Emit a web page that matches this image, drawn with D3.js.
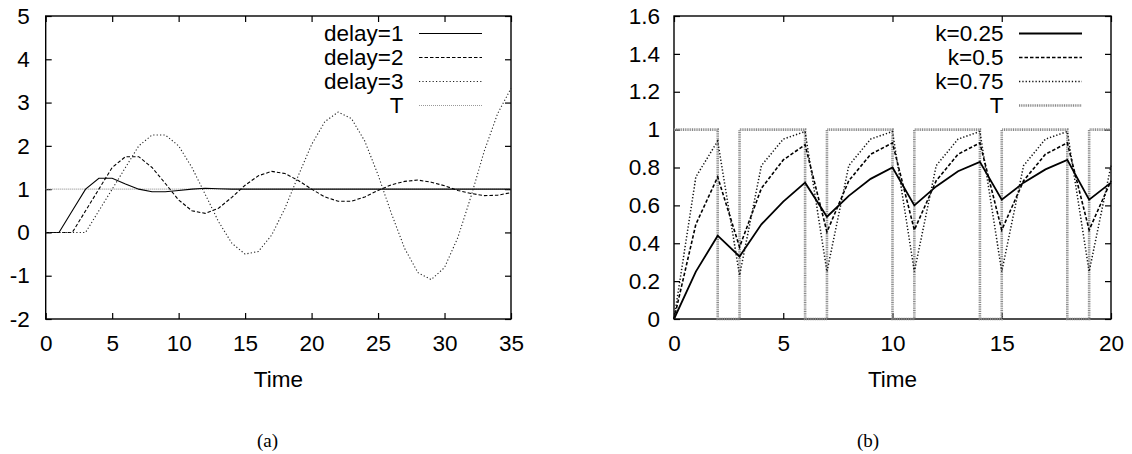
<!DOCTYPE html>
<html lang="en">
  <head>
    <meta charset="utf-8">
    <title></title>
    <script src="https://d3js.org/d3.v7.min.js"></script>
    <style>
     body { margin: 0; background-color: white; }
     svg { font-family: 'Liberation Sans', Arial, sans-serif; }
     .tick text { font-size: 22.5px; fill: black; }
     .tick line { stroke: black; stroke-width: 1.2px; }
     .frame { fill: none; stroke: black; stroke-width: 1.4px; }
     .legend text { font-size: 22.5px; }
     .xlabel { font-size: 22.5px; }
     text.caption { font-family: 'Liberation Serif', 'Times New Roman', serif; font-size: 19px; }
     path.curve { fill: none; }
    </style>
  </head>
  <body>
  <div id="my_dataviz"></div>
  <script>

  // panel (a): response for different delays
  var timeA = [0,1,2,3,4,5,6,7,8,9,10,11,12,13,14,15,16,17,18,19,20,21,22,23,24,25,26,27,28,29,30,31,32,33,34,35];
  var delay1 = [0,0,0.5,1,1.25,1.25,1.12,1,0.94,0.94,0.97,1,1.02,1.01,1,1,1,1,1,1,1,1,1,1,1,1,1,1,1,1,1,1,1,1,1,1];
  var delay2 = [0,0,0,0.5,1,1.5,1.75,1.75,1.5,1.13,0.75,0.5,0.44,0.56,0.81,1.09,1.31,1.41,1.36,1.2,1,0.82,0.72,0.72,0.82,0.97,1.1,1.18,1.21,1.16,1.08,0.97,0.9,0.85,0.86,0.92];
  var delay3 = [0,0,0,0,0.5,1,1.5,2,2.25,2.25,2,1.5,0.88,0.25,-0.25,-0.5,-0.44,-0.06,0.56,1.31,2.03,2.56,2.78,2.63,2.11,1.33,0.44,-0.37,-0.93,-1.09,-0.81,-0.12,0.84,1.89,2.75,3.33];
  var targetA = [1,1,1,1,1,1,1,1,1,1,1,1,1,1,1,1,1,1,1,1,1,1,1,1,1,1,1,1,1,1,1,1,1,1,1,1];
  var xTicksA = [0,5,10,15,20,25,30,35];
  var yTicksA = [-2,-1,0,1,2,3,4,5];

  // panel (b): response for different gains
  var timeB = [0,1,2,3,4,5,6,7,8,9,10,11,12,13,14,15,16,17,18,19,20];
  var k025 = [0,0.25,0.44,0.33,0.5,0.62,0.72,0.54,0.65,0.74,0.8,0.6,0.7,0.78,0.83,0.63,0.72,0.79,0.84,0.63,0.72];
  var k05 = [0,0.5,0.75,0.38,0.69,0.84,0.92,0.46,0.73,0.87,0.93,0.47,0.73,0.87,0.93,0.47,0.73,0.87,0.93,0.47,0.73];
  var k075 = [0,0.75,0.94,0.23,0.81,0.95,0.99,0.25,0.81,0.95,0.99,0.25,0.81,0.95,0.99,0.25,0.81,0.95,0.99,0.25,0.81];
  var targetB = [1,1,0,1,1,1,0,1,1,1,0,1,1,1,0,1,1,1,0,1,1];
  var xTicksB = [0,5,10,15,20];
  var yTicksB = [0,0.2,0.4,0.6,0.8,1,1.2,1.4,1.6];

  var svg = d3.select("#my_dataviz")
    .append("svg")
      .attr("width", 1132)
      .attr("height", 454);

  function drawPanel(p) {
    var width = p.right - p.left,
        height = p.bottom - p.top;
    var g = svg.append("g")
      .attr("transform", "translate(" + p.left + "," + p.top + ")");

    var x = d3.scaleLinear().domain(p.xDomain).range([0, width]);
    var y = d3.scaleLinear().domain(p.yDomain).range([height, 0]);

    // ticks on all four sides, pointing inwards
    g.append("g")
      .attr("transform", "translate(0," + height + ")")
      .call(d3.axisBottom(x).tickValues(p.xTicks).tickSizeInner(-6).tickSizeOuter(0)
        .tickPadding(16).tickFormat(function(d) { return String(d); }));
    g.append("g")
      .call(d3.axisTop(x).tickValues(p.xTicks).tickSizeInner(-6).tickSizeOuter(0).tickFormat(""));
    g.append("g")
      .call(d3.axisLeft(y).tickValues(p.yTicks).tickSizeInner(-6).tickSizeOuter(0)
        .tickPadding(p.yPad).tickFormat(function(d) { return String(d); }));
    g.append("g")
      .attr("transform", "translate(" + width + ",0)")
      .call(d3.axisRight(y).tickValues(p.yTicks).tickSizeInner(-6).tickSizeOuter(0).tickFormat(""));
    g.selectAll(".domain").remove();
    // d3 puts font attributes on the axis groups, drop them so the css applies
    g.selectAll("g").attr("font-family", null).attr("font-size", null);

    g.append("rect")
      .attr("class", "frame")
      .attr("width", width)
      .attr("height", height);

    p.series.forEach(function(s) {
      var line = d3.line()
        .curve(s.step ? d3.curveStepAfter : d3.curveLinear)
        .x(function(d, i) { return x(p.time[i]); })
        .y(function(d) { return y(d); });
      g.append("path")
        .attr("class", "curve")
        .datum(s.values)
        .attr("stroke", s.color)
        .attr("stroke-width", s.width)
        .attr("stroke-dasharray", s.dash)
        .attr("d", line);
    });

    // legend, top right
    var legend = g.append("g").attr("class", "legend");
    p.legendOrder.forEach(function(s, i) {
      var ly = 17.5 + i * 24;
      legend.append("text")
        .attr("x", width - 107.5)
        .attr("y", ly + 7.8)
        .attr("text-anchor", "end")
        .text(s.name);
      legend.append("line")
        .attr("x1", width - 92).attr("x2", width - 29)
        .attr("y1", ly).attr("y2", ly)
        .attr("stroke", s.color)
        .attr("stroke-width", s.width)
        .attr("stroke-dasharray", s.dash);
    });

    g.append("text")
      .attr("class", "xlabel")
      .attr("x", width / 2)
      .attr("y", height + 68)
      .attr("text-anchor", "middle")
      .text("Time");

    svg.append("text")
      .attr("class", "caption")
      .attr("x", p.captionX)
      .attr("y", 447)
      .attr("text-anchor", "middle")
      .text(p.caption);
  }

  var sA = {
    d1: {name: "delay=1", values: delay1, color: "#000", width: 1.1, dash: null},
    d2: {name: "delay=2", values: delay2, color: "#000", width: 1.1, dash: "3.5,2"},
    d3: {name: "delay=3", values: delay3, color: "#222", width: 1.1, dash: "1.2,2.2"},
    t: {name: "T", values: targetA, color: "#999", width: 1.1, dash: "1,1"}
  };
  drawPanel({
    left: 45.7, right: 511, top: 16, bottom: 319,
    xDomain: [0, 35], yDomain: [-2, 5],
    xTicks: xTicksA, yTicks: yTicksA, yPad: 16,
    time: timeA,
    series: [sA.t, sA.d1, sA.d2, sA.d3],
    legendOrder: [sA.d1, sA.d2, sA.d3, sA.t],
    caption: "(a)", captionX: 267.5
  });

  var sB = {
    k1: {name: "k=0.25", values: k025, color: "#000", width: 1.8, dash: null},
    k2: {name: "k=0.5", values: k05, color: "#000", width: 1.6, dash: "3.5,2"},
    k3: {name: "k=0.75", values: k075, color: "#111", width: 1.5, dash: "1.3,2"},
    t: {name: "T", values: targetB, color: "#888", width: 2.6, dash: "1,0.8", step: true}
  };
  drawPanel({
    left: 674, right: 1111, top: 16, bottom: 319,
    xDomain: [0, 20], yDomain: [0, 1.6],
    xTicks: xTicksB, yTicks: yTicksB, yPad: 14,
    time: timeB,
    series: [sB.t, sB.k1, sB.k2, sB.k3],
    legendOrder: [sB.k1, sB.k2, sB.k3, sB.t],
    caption: "(b)", captionX: 868
  });

  </script>
  </body>
</html>
